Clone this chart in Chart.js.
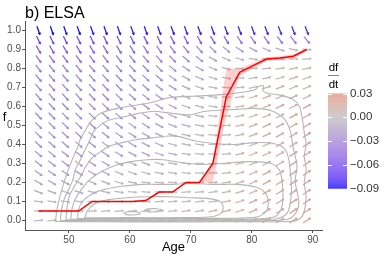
<!DOCTYPE html>
<html>
<head>
<meta charset="utf-8">
<script src="https://cdn.jsdelivr.net/npm/chart.js@4.4.1/dist/chart.umd.min.js"></script>
<style>
  html, body { margin: 0; padding: 0; background: #fff; }
  canvas { display: block; }
</style>
</head>
<body>
<canvas id="elsaChart" width="389" height="259"></canvas>
<script>
// vector field grid
const ages = [45, 47.2, 49.4, 51.6, 53.8, 56, 58.2, 60.4, 62.6, 64.8, 67, 69.2, 71.4, 73.6, 75.8, 78, 80.2, 82.4, 84.6, 86.8, 89];
const fLevels = [1.0, 0.95, 0.9, 0.85, 0.8, 0.75, 0.7, 0.65, 0.6, 0.55, 0.5, 0.45, 0.4, 0.35, 0.3, 0.25, 0.2, 0.15, 0.1, 0.05, 0.0];

// df/dt x 1000, one column per age, f from 1.0 down to 0.0
const dfdtByAge = [
    [-90, -69, -56, -46, -41, -38, -37, -36, -34, -33, -32, -30, -29, -27, -25, -22, -18, -12, -5, -1, 2],
    [-90, -69, -56, -46, -41, -38, -37, -36, -34, -33, -32, -30, -29, -27, -25, -22, -18, -12, -5, -1, 2],
    [-89, -68, -55, -45, -40, -37, -36, -35, -33, -32, -31, -29, -28, -26, -24, -21, -17, -11, -5, -1, 2],
    [-89, -68, -55, -45, -40, -37, -36, -35, -33, -32, -30, -28, -27, -25, -23, -20, -16, -10, -4, 0, 2],
    [-88, -67, -54, -44, -39, -36, -35, -34, -32, -31, -29, -27, -25, -23, -21, -18, -14, -8, -1, 2, 3],
    [-88, -67, -53, -43, -38, -35, -34, -33, -31, -29, -27, -25, -23, -21, -19, -16, -12, -7, -1, 2, 3],
    [-88, -66, -52, -42, -37, -34, -33, -31, -29, -27, -25, -23, -21, -19, -16, -13, -9, -5, 0, 2, 3],
    [-87, -66, -51, -41, -36, -33, -31, -29, -27, -25, -23, -21, -19, -17, -14, -11, -7, -3, 0, 2, 3],
    [-87, -65, -49, -39, -34, -31, -29, -27, -25, -23, -21, -19, -17, -15, -12, -9, -5, -2, 0, 2, 4],
    [-87, -64, -47, -37, -31, -28, -26, -24, -22, -20, -17, -15, -13, -11, -9, -6, -3, 0, 2, 3, 4],
    [-86, -62, -44, -33, -27, -23, -20, -18, -16, -14, -12, -10, -9, -7, -6, -4, -2, 0, 2, 3, 5],
    [-86, -60, -40, -28, -22, -18, -15, -13, -11, -9, -8, -7, -6, -5, -4, -2, 0, 2, 3, 5, 6],
    [-86, -58, -36, -24, -18, -14, -11, -9, -8, -7, -6, -5, -4, -3, -2, -1, 0, 2, 4, 5, 7],
    [-85, -56, -32, -19, -13, -9, -7, -5, -4, -3, -2, -2, -1, -1, 0, 1, 2, 4, 5, 7, 8],
    [-85, -53, -27, -14, -8, -5, -3, -1, 0, 1, 1, 2, 2, 3, 3, 4, 5, 6, 7, 8, 9],
    [-85, -50, -22, -9, -3, 0, 2, 4, 5, 6, 7, 7, 8, 8, 9, 9, 10, 10, 11, 11, 12],
    [-84, -47, -17, -5, 1, 4, 7, 9, 10, 11, 12, 12, 13, 13, 13, 14, 14, 14, 15, 15, 15],
    [-84, -45, -13, -2, 3, 7, 10, 12, 13, 14, 15, 15, 16, 16, 16, 17, 17, 17, 17, 18, 18],
    [-84, -43, -10, -1, 5, 9, 12, 14, 15, 16, 17, 17, 18, 18, 18, 19, 19, 19, 19, 19, 19],
    [-83, -40, -7, 0, 6, 10, 13, 15, 16, 17, 18, 19, 19, 20, 20, 20, 20, 20, 20, 20, 20],
    [-82, -38, -2, 2, 7, 11, 14, 16, 17, 18, 19, 20, 20, 21, 21, 21, 21, 21, 21, 21, 21]
];

// fitted f at each age and its band
const lineF    = [0.05, 0.05, 0.05, 0.05, 0.10, 0.10, 0.10, 0.10, 0.105, 0.15, 0.15, 0.20, 0.20, 0.30, 0.65, 0.78, 0.815, 0.85, 0.855, 0.865, 0.90];
const bandLow  = [0.05, 0.05, 0.05, 0.046, 0.096, 0.1, 0.1, 0.1, 0.1, 0.146, 0.15, 0.196, 0.2, 0.2, 0.55, 0.76, 0.80, 0.84, 0.845, 0.85, 0.895];
const bandHigh = [0.05, 0.05, 0.05, 0.054, 0.104, 0.1, 0.1, 0.1, 0.11, 0.154, 0.155, 0.204, 0.2, 0.31, 0.80, 0.80, 0.83, 0.86, 0.865, 0.875, 0.905];

// density contours, [age, f]
const contour1 = [[47.8, -0.005], [48.0, 0.05], [48.4, 0.11], [49.0, 0.18], [49.7, 0.25], [50.3, 0.3], [50.8, 0.34], [51.5, 0.39], [51.9, 0.43], [52.8, 0.48], [53.6, 0.52], [55.2, 0.565], [57.9, 0.59], [60.6, 0.605], [63.4, 0.62], [65.5, 0.64], [67.2, 0.65], [71, 0.655], [75.9, 0.665], [78.5, 0.675], [80.6, 0.69], [81.0, 0.705], [81.9, 0.71], [81.8, 0.685], [82.5, 0.67], [84.6, 0.66], [86.6, 0.64], [87.8, 0.6], [88.3, 0.53], [88.6, 0.46], [88.9, 0.4], [88.6, 0.34], [88.9, 0.27], [88.6, 0.2], [88.9, 0.12], [88.6, 0.05], [88.0, 0.012], [86.8, -0.004], [80, -0.006], [70, -0.007], [60, -0.007], [50, -0.006], [47.8, -0.005]];
const contour2 = [[48.6, -0.002], [48.8, 0.06], [49.2, 0.11], [49.9, 0.16], [50.6, 0.21], [51.1, 0.27], [51.9, 0.32], [52.6, 0.37], [53.4, 0.42], [54.1, 0.47], [55.5, 0.51], [56.8, 0.53], [59.6, 0.55], [61.7, 0.565], [64, 0.575], [66.6, 0.565], [69.9, 0.556], [72.1, 0.574], [74.8, 0.58], [77.5, 0.585], [80.3, 0.59], [83, 0.58], [85.2, 0.54], [86.3, 0.47], [86.8, 0.38], [87.4, 0.29], [87.1, 0.205], [87.7, 0.1], [87.4, 0.05], [86.3, 0.012], [84, 0.0], [70, -0.002], [55, -0.002], [48.6, -0.002]];
const contour3 = [[49.5, 0.002], [49.7, 0.07], [50.1, 0.13], [50.9, 0.18], [51.9, 0.23], [52.7, 0.28], [53.8, 0.33], [55.1, 0.36], [56.5, 0.39], [58.7, 0.41], [60.9, 0.425], [63.6, 0.435], [66.3, 0.445], [68.3, 0.44], [70.5, 0.42], [73.8, 0.405], [77, 0.4], [80.8, 0.41], [83.5, 0.405], [85.3, 0.38], [86.0, 0.33], [86.3, 0.26], [86.5, 0.17], [86.3, 0.09], [85.7, 0.035], [84, 0.008], [70, 0.003], [55, 0.002], [49.5, 0.002]];
const contour4 = [[50.3, 0.006], [50.5, 0.06], [51, 0.11], [52.2, 0.17], [53.6, 0.22], [55.5, 0.26], [57.6, 0.29], [60.2, 0.31], [62.8, 0.32], [65.5, 0.32], [68.3, 0.305], [71.4, 0.295], [75, 0.3], [79.7, 0.31], [83.2, 0.3], [84.6, 0.26], [85.0, 0.19], [85.1, 0.12], [84.8, 0.06], [83.8, 0.02], [80, 0.008], [65, 0.007], [50.3, 0.006]];
const contour5 = [[51.4, 0.01], [51.6, 0.06], [52.2, 0.1], [53.8, 0.14], [56, 0.165], [58.7, 0.18], [62, 0.19], [66.6, 0.19], [70, 0.195], [74, 0.19], [77.5, 0.19], [80.8, 0.175], [82.2, 0.145], [82.7, 0.1], [82.4, 0.05], [81, 0.02], [77, 0.012], [65, 0.011], [51.4, 0.01]];
const contour6 = [[52.6, 0.014], [53.0, 0.05], [54.3, 0.09], [56.5, 0.11], [59.5, 0.12], [63, 0.125], [66.6, 0.125], [70, 0.12], [73, 0.115], [74.8, 0.1], [75.3, 0.07], [75.0, 0.04], [73.5, 0.02], [70, 0.015], [60, 0.015], [52.6, 0.014]];
const contour7 = [[59.0, 0.038], [59.5, 0.031], [60.5, 0.029], [61.5, 0.033], [61.7, 0.04], [61, 0.046], [60, 0.046], [59.2, 0.043], [59.0, 0.038]];
const contour8 = [[62.4, 0.052], [63, 0.046], [64, 0.045], [65, 0.05], [65.2, 0.057], [64.3, 0.062], [63.2, 0.061], [62.5, 0.057], [62.4, 0.052]];

const xTicks = [50, 60, 70, 80, 90];
const yTicks = [0, 0.1, 0.2, 0.3, 0.4, 0.5, 0.6, 0.7, 0.8, 0.9, 1.0];
const legendTicks = [0.03, 0, -0.03, -0.06, -0.09];

const FONT = "'Liberation Sans', Arial, sans-serif";

// colour ramp blue - grey - red, mixed in CIELAB like ggplot
function rgbToLab(rgb) {
    const lin = c => { c /= 255; return c <= 0.04045 ? c / 12.92 : Math.pow((c + 0.055) / 1.055, 2.4); };
    const R = lin(rgb[0]), G = lin(rgb[1]), B = lin(rgb[2]);
    const X = (0.4124 * R + 0.3576 * G + 0.1805 * B) / 0.95047;
    const Y = 0.2126 * R + 0.7152 * G + 0.0722 * B;
    const Z = (0.0193 * R + 0.1192 * G + 0.9505 * B) / 1.08883;
    const f = t => t > 0.008856 ? Math.cbrt(t) : 7.787 * t + 16 / 116;
    return [116 * f(Y) - 16, 500 * (f(X) - f(Y)), 200 * (f(Y) - f(Z))];
}
function labToCss(lab) {
    const fy = (lab[0] + 16) / 116, fx = fy + lab[1] / 500, fz = fy - lab[2] / 200;
    const inv = t => t * t * t > 0.008856 ? t * t * t : (t - 16 / 116) / 7.787;
    const X = inv(fx) * 0.95047, Y = inv(fy), Z = inv(fz) * 1.08883;
    const gam = c => {
        c = c <= 0.0031308 ? 12.92 * c : 1.055 * Math.pow(c, 1 / 2.4) - 0.055;
        return Math.round(Math.max(0, Math.min(1, c)) * 255);
    };
    return 'rgb(' + gam(3.2406 * X - 1.5372 * Y - 0.4986 * Z) + ',' +
        gam(-0.9689 * X + 1.8758 * Y + 0.0415 * Z) + ',' +
        gam(0.0557 * X - 0.2040 * Y + 1.0570 * Z) + ')';
}
const labLow = rgbToLab([0, 0, 255]);
const labMid = rgbToLab([190, 190, 190]);
const labHigh = rgbToLab([255, 0, 0]);
function slopeColour(v) {
    const t = Math.min(1, Math.abs(v) / 0.09);
    const end = v < 0 ? labLow : labHigh;
    return labToCss([0, 1, 2].map(k => labMid[k] + (end[k] - labMid[k]) * t));
}

// build datasets
const arrowPoints = [];
ages.forEach((a, i) => {
    fLevels.forEach((f, j) => {
        arrowPoints.push({ x: a, y: f, v: dfdtByAge[i][j] / 1000 });
    });
});

function slopeAngle(ctx) {
    if (!ctx.raw) return 0;
    const xs = ctx.chart.scales.x, ys = ctx.chart.scales.y;
    const px = xs.getPixelForValue(1) - xs.getPixelForValue(0);
    const py = ys.getPixelForValue(0) - ys.getPixelForValue(1);
    return -Math.atan(ctx.raw.v * py / px) * 180 / Math.PI;
}

const toXY = arr => arr.map(p => ({ x: p[0], y: p[1] }));
const contours = [contour1, contour2, contour3, contour4, contour5, contour6, contour7, contour8];

const datasets = [
    {
        label: 'fit',
        data: ages.map((a, i) => ({ x: a, y: lineF[i] })),
        showLine: true,
        borderColor: '#ff0000',
        borderWidth: 1.5,
        pointRadius: 0,
        fill: false
    },
    {
        label: 'band high',
        data: ages.map((a, i) => ({ x: a, y: bandHigh[i] })),
        showLine: true,
        borderWidth: 0,
        borderColor: 'rgba(0,0,0,0)',
        backgroundColor: 'rgba(255, 60, 60, 0.25)',
        pointRadius: 0,
        fill: { target: 2 }
    },
    {
        label: 'band low',
        data: ages.map((a, i) => ({ x: a, y: bandLow[i] })),
        showLine: true,
        borderWidth: 0,
        borderColor: 'rgba(0,0,0,0)',
        pointRadius: 0,
        fill: false
    }
];
contours.forEach((c, k) => {
    datasets.push({
        label: 'contour' + (k + 1),
        data: toXY(c),
        showLine: true,
        borderColor: '#b5b5b5',
        borderWidth: 1.1,
        pointRadius: 0,
        tension: 0.25,
        fill: false
    });
});
const arrowIndex = datasets.length;
datasets.push({
    label: 'arrows',
    data: arrowPoints,
    pointStyle: 'line',
    pointRadius: 4.5,
    pointHoverRadius: 4.5,
    pointBorderWidth: 1.2,
    pointRotation: slopeAngle,
    pointBorderColor: ctx => ctx.raw ? slopeColour(ctx.raw.v) : '#bebebe',
    pointBackgroundColor: ctx => ctx.raw ? slopeColour(ctx.raw.v) : '#bebebe'
});

// small arrow heads on the field
const arrowHeads = {
    id: 'arrowHeads',
    afterDatasetDraw(chart, args) {
        if (args.index !== arrowIndex) return;
        const ctx = chart.ctx;
        ctx.save();
        args.meta.data.forEach(el => {
            const r = (el.options.rotation || 0) * Math.PI / 180;
            const R = el.options.radius;
            const tx = el.x + Math.cos(r) * R, ty = el.y + Math.sin(r) * R;
            ctx.strokeStyle = el.options.borderColor;
            ctx.lineWidth = 1;
            ctx.beginPath();
            [0.5, -0.5].forEach(d => {
                ctx.moveTo(tx, ty);
                ctx.lineTo(tx - Math.cos(r + d) * 2.4, ty - Math.sin(r + d) * 2.4);
            });
            ctx.stroke();
        });
        ctx.restore();
    }
};

// title, y label and colour bar
const extras = {
    id: 'extras',
    afterDraw(chart) {
        const ctx = chart.ctx;
        ctx.save();
        ctx.fillStyle = '#000';
        ctx.font = '16px ' + FONT;
        ctx.textAlign = 'left';
        ctx.textBaseline = 'alphabetic';
        ctx.fillText('b) ELSA', chart.chartArea.left, 18);

        ctx.font = '13px ' + FONT;
        ctx.textAlign = 'center';
        ctx.fillText('f', 4.5, 121);

        // legend
        const barL = 328, barW = 19, top = 93.5, bottom = 188.5;
        const vTop = legendTicks[0], vBot = legendTicks[legendTicks.length - 1];
        const yOf = v => top + (vTop - v) / (vTop - vBot) * (bottom - top);
        for (let y = top; y < bottom; y += 1) {
            const v = vTop - (y + 0.5 - top) / (bottom - top) * (vTop - vBot);
            ctx.fillStyle = slopeColour(v);
            ctx.fillRect(barL, y, barW, 1.05);
        }
        ctx.strokeStyle = '#ffffff';
        ctx.lineWidth = 1;
        legendTicks.forEach(v => {
            const y = Math.round(yOf(v)) + 0.5;
            ctx.beginPath();
            ctx.moveTo(barL, y); ctx.lineTo(barL + 4, y);
            ctx.moveTo(barL + barW - 4, y); ctx.lineTo(barL + barW, y);
            ctx.stroke();
        });
        ctx.fillStyle = '#333';
        ctx.font = '11.5px ' + FONT;
        ctx.textAlign = 'left';
        ctx.textBaseline = 'middle';
        legendTicks.forEach(v => {
            const txt = (v < 0 ? '\u2212' : '') + Math.abs(v).toFixed(2);
            ctx.fillText(txt, barL + barW + 3, yOf(v));
        });

        // df/dt legend title
        ctx.fillStyle = '#000';
        ctx.textAlign = 'center';
        ctx.textBaseline = 'alphabetic';
        ctx.fillText('df', barL + 5.5, 71);
        ctx.fillText('dt', barL + 5.5, 88);
        ctx.strokeStyle = '#888';
        ctx.beginPath();
        ctx.moveTo(barL, 75.5); ctx.lineTo(barL + 11, 75.5);
        ctx.stroke();
        ctx.restore();
    }
};

Chart.defaults.font.family = FONT;

new Chart(document.getElementById('elsaChart'), {
    type: 'scatter',
    data: { datasets: datasets },
    options: {
        responsive: false,
        animation: false,
        devicePixelRatio: 1,
        layout: { padding: { top: 21, right: 67, bottom: 4, left: 0 } },
        plugins: {
            legend: { display: false },
            tooltip: { enabled: false },
            title: { display: false }
        },
        scales: {
            x: {
                type: 'linear',
                min: 42.8,
                max: 91.5,
                afterBuildTicks: s => { s.ticks = xTicks.map(v => ({ value: v })); },
                afterFit: s => { s.height = 25; },
                ticks: { color: '#4d4d4d', font: { size: 10 }, padding: 1, maxRotation: 0, autoSkip: false },
                grid: { display: true, drawOnChartArea: false, drawTicks: true, tickLength: 3, color: '#555' },
                border: { display: true, color: '#555', width: 1 },
                title: { display: true, text: 'Age', color: '#000', font: { size: 13 }, padding: { top: 0, bottom: 0 } }
            },
            y: {
                type: 'linear',
                min: -0.05,
                max: 1.05,
                afterBuildTicks: s => { s.ticks = yTicks.map(v => ({ value: v })); },
                afterFit: s => { s.width = 25; },
                ticks: { color: '#4d4d4d', font: { size: 10 }, padding: 1, callback: v => v.toFixed(1), autoSkip: false },
                grid: { display: true, drawOnChartArea: false, drawTicks: true, tickLength: 3, color: '#555' },
                border: { display: true, color: '#555', width: 1 }
            }
        }
    },
    plugins: [arrowHeads, extras]
});
</script>
</body>
</html>
